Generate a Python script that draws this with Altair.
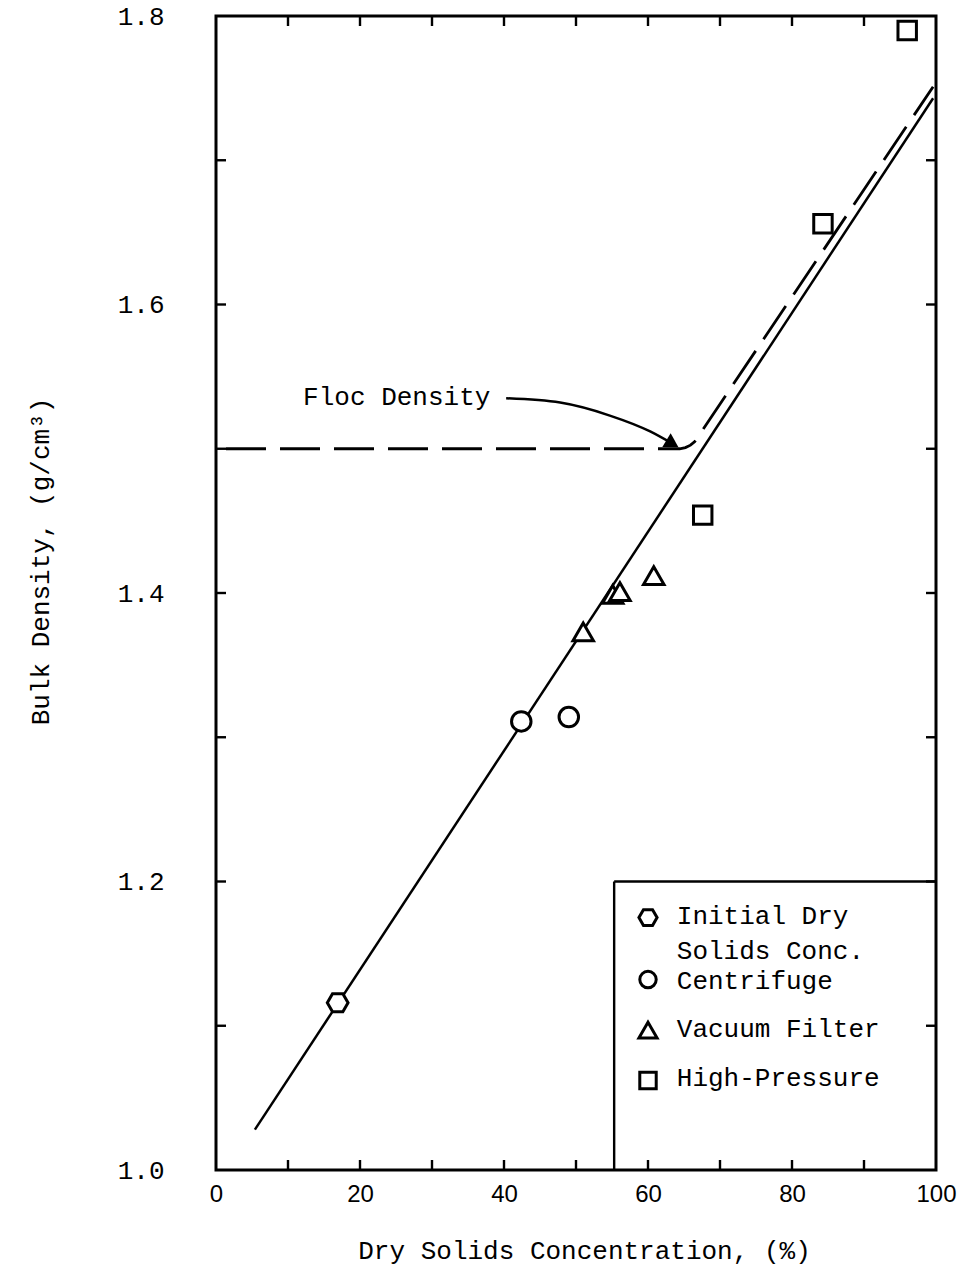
import altair as alt
import pandas as pd

# Measured bulk density (g/cm3) against dry solids concentration (%)
initial_x = [16.9]
initial_y = [1.116]
centrifuge_x = [42.4, 49.0]
centrifuge_y = [1.311, 1.314]
vacuum_x = [51.0, 55.1, 56.1, 60.8]
vacuum_y = [1.373, 1.399, 1.401, 1.412]
pressure_x = [67.6, 84.3, 96.0]
pressure_y = [1.454, 1.656, 1.790]

# Fitted solid line
fit_x = [5.4, 99.6]
fit_y = [1.028, 1.743]

# Dashed floc-density line: flat at 1.5, then bending up along the fit
floc_x = [0.0, 64.4, 65.2, 65.9, 66.5, 99.6]
floc_y = [1.5, 1.5, 1.5008, 1.5025, 1.505, 1.751]

# Annotation arrow from the "Floc Density" label to the bend
arrow_x = [40.3, 47.8, 54.7, 60.3, 63.4]
arrow_y = [1.535, 1.532, 1.523, 1.512, 1.5035]

# Legend entries (drawn inside the plot box)
legend_labels = ["Initial Dry", "Solids Conc.", "Centrifuge", "Vacuum Filter", "High-Pressure"]
legend_label_y = [1.176, 1.152, 1.131, 1.098, 1.064]
legend_shapes = ["hex", "circle", "triangle-up", "square"]
legend_shape_y = [1.175, 1.132, 1.097, 1.062]

x_labels = [0, 20, 40, 60, 80, 100]
x_ticks = [10, 20, 30, 40, 50, 60, 70, 80, 90]
y_labels = [1.0, 1.2, 1.4, 1.6, 1.8]
y_ticks = [1.1, 1.2, 1.3, 1.4, 1.5, 1.6, 1.7]

W, H = 720, 1154
MONO = "Liberation Mono"
HEX = "M-1,0L-0.5,-0.866L0.5,-0.866L1,0L0.5,0.866L-0.5,0.866Z"

xs = alt.Scale(domain=[0, 100], nice=False, zero=False)
ys = alt.Scale(domain=[1.0, 1.8], nice=False, zero=False)

x_axis = alt.Axis(
    values=x_labels, ticks=False, domain=False, grid=False,
    labelFont="Liberation Sans", labelFontSize=24, labelColor="black",
    labelPadding=12, labelFlush=False,
    title="Dry Solids Concentration, (%)", titleFont=MONO, titleFontSize=26,
    titleFontWeight="normal", titleColor="black",
    titleX=368, titleY=80, titleBaseline="middle", titleAlign="center",
)
y_axis = alt.Axis(
    values=y_labels, format=".1f", ticks=False, domain=False, grid=False,
    labelFont=MONO, labelFontSize=26, labelColor="black", labelPadding=52,
    labelFlush=False,
    title="Bulk Density, (g/cm³)", titleFont=MONO, titleFontSize=26,
    titleFontWeight="normal", titleColor="black", titleAngle=-90,
    titleX=-176, titleY=545, titleBaseline="middle", titleAlign="center",
)


def X(field="x"):
    return alt.X(f"{field}:Q", scale=xs, axis=x_axis)


def Y(field="y"):
    return alt.Y(f"{field}:Q", scale=ys, axis=y_axis)


def frame(xv, yv):
    return pd.DataFrame({"x": xv, "y": yv})


sym = dict(filled=True, fill="white", stroke="black", strokeWidth=3, opacity=1)

initial = alt.Chart(frame(initial_x, initial_y)).mark_point(
    shape=HEX, size=430, **sym).encode(x=X(), y=Y())
centrifuge = alt.Chart(frame(centrifuge_x, centrifuge_y)).mark_point(
    shape="circle", size=380, **sym).encode(x=X(), y=Y())
vacuum = alt.Chart(frame(vacuum_x, vacuum_y)).mark_point(
    shape="triangle-up", size=420, **sym).encode(x=X(), y=Y())
pressure = alt.Chart(frame(pressure_x, pressure_y)).mark_point(
    shape="square", size=340, **sym).encode(x=X(), y=Y())

fit = alt.Chart(frame(fit_x, fit_y)).mark_line(
    color="black", strokeWidth=2.5).encode(x=X(), y=Y())
floc = alt.Chart(frame(floc_x, floc_y)).mark_line(
    color="black", strokeWidth=2.8, strokeDash=[40, 14], strokeDashOffset=44
).encode(x=X(), y=Y())
arrow = alt.Chart(frame(arrow_x, arrow_y)).mark_line(
    color="black", strokeWidth=2.5, interpolate="monotone").encode(x=X(), y=Y())
arrow_head = alt.Chart(frame(arrow_x[-1:], arrow_y[-1:])).mark_point(
    shape="triangle-right", size=260, filled=True, color="black", angle=31, opacity=1
).encode(x=X(), y=Y())

floc_label = alt.Chart(frame([12.1], [1.536])).mark_text(
    text="Floc Density", font=MONO, fontSize=26, align="left", baseline="middle",
    color="black").encode(x=X(), y=Y())

# Legend box lines
box_left = alt.Chart(pd.DataFrame({"x": [55.3], "y": [1.0], "y2": [1.2]})).mark_rule(
    color="black", strokeWidth=2.4).encode(x=X(), y=Y(), y2="y2:Q")
box_top = alt.Chart(pd.DataFrame({"x": [55.3], "x2": [100.0], "y": [1.2]})).mark_rule(
    color="black", strokeWidth=2.4).encode(x=X(), x2="x2:Q", y=Y())

legend_text = alt.Chart(pd.DataFrame({"x": [64.0] * len(legend_labels),
                                      "y": legend_label_y,
                                      "t": legend_labels})).mark_text(
    font=MONO, fontSize=26, align="left", baseline="middle", color="black"
).encode(x=X(), y=Y(), text="t:N")

legend_syms = []
for shape, yv, size in zip(legend_shapes, legend_shape_y, [330, 270, 330, 270]):
    shp = HEX if shape == "hex" else shape
    legend_syms.append(
        alt.Chart(frame([60.0], [yv])).mark_point(shape=shp, size=size, **sym)
        .encode(x=X(), y=Y())
    )

# Inward tick marks on all four sides
tx = pd.DataFrame({"x": x_ticks})
ty = pd.DataFrame({"y": y_ticks})
tick_style = dict(color="black", strokeWidth=2.4)
ticks_bottom = alt.Chart(tx).mark_rule(**tick_style).encode(
    x=X(), y=alt.value(H), y2=alt.value(H - 10))
ticks_top = alt.Chart(tx).mark_rule(**tick_style).encode(
    x=X(), y=alt.value(0), y2=alt.value(10))
ticks_left = alt.Chart(ty).mark_rule(**tick_style).encode(
    y=Y(), x=alt.value(0), x2=alt.value(10))
ticks_right = alt.Chart(ty).mark_rule(**tick_style).encode(
    y=Y(), x=alt.value(W - 10), x2=alt.value(W))

chart = alt.layer(
    fit, floc, arrow, arrow_head, floc_label,
    box_left, box_top, legend_text, *legend_syms,
    ticks_bottom, ticks_top, ticks_left, ticks_right,
    initial, centrifuge, vacuum, pressure,
).properties(
    width=W, height=H,
    autosize=alt.AutoSizeParams(type="none"),
    padding={"left": 216, "top": 16, "right": 35, "bottom": 103},
    background="white",
).configure_view(stroke="black", strokeWidth=3)

chart.save("out.html", embed_options={"renderer": "svg", "actions": False})
